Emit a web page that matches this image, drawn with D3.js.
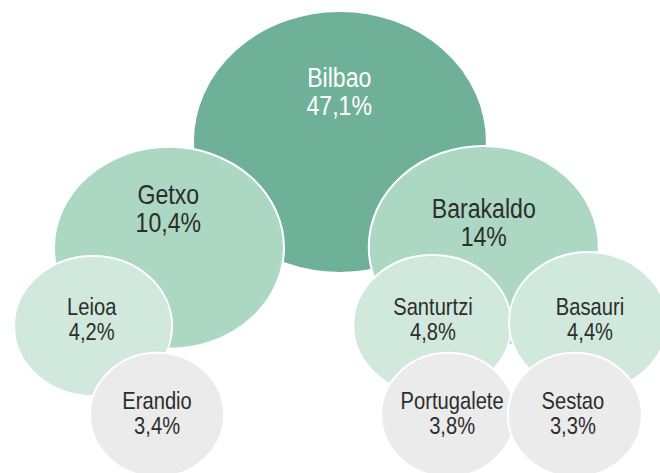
<!DOCTYPE html>
<html>
<head>
<meta charset="utf-8">
<script src="https://cdn.jsdelivr.net/npm/d3@7"></script>
<style>
  html, body { margin: 0; padding: 0; background: #ffffff; }
  svg { display: block; }
</style>
</head>
<body>
<svg id="chart" width="660" height="473"></svg>
<script>
// Municipalities and their share (%)
const municipalities = ["Bilbao", "Getxo", "Barakaldo", "Leioa", "Santurtzi", "Basauri", "Erandio", "Portugalete", "Sestao"];
const shares = [47.1, 10.4, 14, 4.2, 4.8, 4.4, 3.4, 3.8, 3.3];
const shareLabels = ["47,1%", "10,4%", "14%", "4,2%", "4,8%", "4,4%", "3,4%", "3,8%", "3,3%"];

// Bubble placement, as fractions of the drawing area
const placeX = [0.515, 0.256, 0.733, 0.141, 0.655, 0.891, 0.238, 0.679, 0.871];
const placeY = [0.300, 0.524, 0.522, 0.689, 0.687, 0.681, 0.877, 0.877, 0.877];

// Label anchor (first text line), as fractions of the drawing area
const labelX = [0.514, 0.255, 0.733, 0.139, 0.656, 0.894, 0.238, 0.685, 0.868];
const labelY = [0.184, 0.431, 0.461, 0.666, 0.666, 0.666, 0.865, 0.865, 0.865];

const width = 660, height = 473;
const svg = d3.select("#chart");

const x = d3.scaleLinear().domain([0, 1]).range([0, width]);
const y = d3.scaleLinear().domain([0, 1]).range([0, height]);

// Size tiers by share
const thresholds = [4, 10, 20];
const rxScale = d3.scaleThreshold().domain(thresholds).range([67, 79, 115, 147]);
const ryScale = d3.scaleThreshold().domain(thresholds).range([62, 70, 101, 131]);
const fillScale = d3.scaleThreshold().domain(thresholds).range(["#ebebeb", "#d1e8dc", "#acd7c3", "#6fb198"]);
const textScale = d3.scaleThreshold().domain(thresholds).range(["#2d2d2d", "#2d2d2d", "#2d2d2d", "#ffffff"]);
const fontScale = d3.scaleThreshold().domain(thresholds).range([24, 24, 27.5, 27.5]);

const data = municipalities.map((name, i) => ({
  name, value: shares[i], label: shareLabels[i],
  px: placeX[i], py: placeY[i], lx: labelX[i], ly: labelY[i]
}));

// Bubbles
svg.append("g").attr("class", "bubbles")
  .selectAll("ellipse")
  .data(data)
  .join("ellipse")
  .attr("cx", d => x(d.px))
  .attr("cy", d => y(d.py))
  .attr("rx", d => rxScale(d.value))
  .attr("ry", d => ryScale(d.value))
  .attr("fill", d => fillScale(d.value))
  .attr("stroke", "#ffffff")
  .attr("stroke-width", 2);

// Labels on top of every bubble; condensed horizontally
const txt = svg.append("g").attr("class", "labels")
  .selectAll("text")
  .data(data)
  .join("text")
  .attr("transform", d => `translate(${x(d.lx)},${y(d.ly)}) scale(0.84,1)`)
  .attr("text-anchor", "middle")
  .attr("fill", d => textScale(d.value))
  .style("font-family", "'Liberation Sans', Arial, sans-serif")
  .style("font-size", d => fontScale(d.value) + "px");

txt.append("tspan")
  .attr("x", 0)
  .attr("y", 0)
  .text(d => d.name);

txt.append("tspan")
  .attr("x", 0)
  .attr("dy", d => fontScale(d.value) * 1.03)
  .text(d => d.label);
</script>
</body>
</html>
